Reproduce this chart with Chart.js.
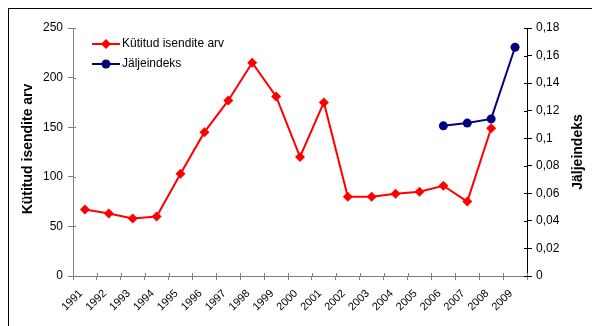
<!DOCTYPE html>
<html>
<head>
<meta charset="utf-8">
<script src="https://cdn.jsdelivr.net/npm/chart.js@4/dist/chart.umd.min.js"></script>
<style>
  html, body { margin: 0; padding: 0; background: #fff; }
  #wrap { position: relative; width: 592px; height: 326px; }
</style>
</head>
<body>
<div id="wrap"><canvas id="chart"></canvas></div>
<script>
// aastad
const years = ['1991', '1992', '1993', '1994', '1995', '1996', '1997', '1998', '1999', '2000',
               '2001', '2002', '2003', '2004', '2005', '2006', '2007', '2008', '2009'];
// kütitud isendite arv (vasak telg)
const kytitud = [67, 63, 58, 60, 103, 145, 177, 215, 181, 120,
                 175, 80, 80, 83, 85, 91, 75, 149, null];
// jäljeindeks (parem telg)
const jaljeindeks = [null, null, null, null, null, null, null, null, null, null,
                     null, null, null, null, null, 0.109, 0.111, 0.114, 0.166];
const leftTickLabels = ['0', '50', '100', '150', '200', '250'];
const rightTickLabels = ['0', '0,02', '0,04', '0,06', '0,08', '0,1', '0,12', '0,14', '0,16', '0,18'];

const FONT = '"Liberation Sans", Arial, sans-serif';

// raam, telgede pealkirjad, legend ja läbivad kriipsud
const decor = {
  id: 'decor',
  beforeDraw(chart) {
    const ctx = chart.ctx;
    ctx.save();
    ctx.fillStyle = '#fff';
    ctx.fillRect(0, 0, chart.width, chart.height);
    ctx.strokeStyle = '#000';
    ctx.lineWidth = 1;
    ctx.strokeRect(8.5, 8.5, 800, 500);
    ctx.restore();
  },
  afterDraw(chart) {
    const ctx = chart.ctx;
    const area = chart.chartArea;
    const { x, y, y1 } = chart.scales;
    ctx.save();

    // kriipsud telje sisse
    ctx.lineWidth = 1;
    ctx.strokeStyle = '#808080';
    y.ticks.forEach((t, i) => {
      const py = Math.round(y.getPixelForTick(i)) + 0.5;
      ctx.beginPath(); ctx.moveTo(area.left, py); ctx.lineTo(area.left + 3, py); ctx.stroke();
    });
    for (let i = 0; i <= years.length; i++) {
      const px = Math.round(x.getPixelForValue(i - 0.5)) + 0.5;
      ctx.beginPath(); ctx.moveTo(px, area.bottom); ctx.lineTo(px, area.bottom - 3); ctx.stroke();
    }
    ctx.strokeStyle = '#000';
    y1.ticks.forEach((t, i) => {
      const py = Math.round(y1.getPixelForTick(i)) + 0.5;
      ctx.beginPath(); ctx.moveTo(area.right, py); ctx.lineTo(area.right - 3, py); ctx.stroke();
    });

    // telgede pealkirjad
    const midY = (area.top + area.bottom) / 2;
    ctx.fillStyle = '#000';
    ctx.font = 'bold 14px ' + FONT;
    ctx.textAlign = 'center';
    ctx.textBaseline = 'middle';
    ctx.translate(28, midY - 3);
    ctx.rotate(-Math.PI / 2);
    ctx.fillText('Kütitud isendite arv', 0, 0);
    ctx.setTransform(1, 0, 0, 1, 0, 0);
    ctx.translate(578, midY);
    ctx.rotate(-Math.PI / 2);
    ctx.fillText('Jäljeindeks', 0, 0);
    ctx.setTransform(1, 0, 0, 1, 0, 0);

    // legend
    ctx.font = '12px ' + FONT;
    ctx.textAlign = 'left';
    chart.data.datasets.forEach((ds, i) => {
      const ly = 44 + i * 20;
      ctx.strokeStyle = ds.borderColor;
      ctx.lineWidth = 2;
      ctx.beginPath(); ctx.moveTo(92, ly); ctx.lineTo(120, ly); ctx.stroke();
      ctx.fillStyle = ds.pointBackgroundColor;
      Chart.helpers.drawPoint(ctx, { pointStyle: ds.pointStyle, radius: ds.pointRadius, borderWidth: 0 }, 106, ly);
      ctx.fillStyle = '#000';
      ctx.fillText(ds.label, 122, ly);
    });
    ctx.restore();
  }
};

new Chart(document.getElementById('chart'), {
  type: 'line',
  data: {
    labels: years,
    datasets: [{
      label: 'Kütitud isendite arv',
      data: kytitud,
      yAxisID: 'y',
      borderColor: '#ff0000',
      backgroundColor: '#ff0000',
      pointBackgroundColor: '#ff0000',
      pointBorderColor: '#ff0000',
      borderWidth: 2,
      pointStyle: 'rectRot',
      pointRadius: 5,
      pointBorderWidth: 0,
      tension: 0
    }, {
      label: 'Jäljeindeks',
      data: jaljeindeks,
      yAxisID: 'y1',
      borderColor: '#000080',
      backgroundColor: '#000080',
      pointBackgroundColor: '#000080',
      pointBorderColor: '#000080',
      borderWidth: 2,
      pointStyle: 'circle',
      pointRadius: 4.5,
      pointBorderWidth: 0,
      tension: 0
    }]
  },
  options: {
    responsive: true,
    maintainAspectRatio: false,
    animation: false,
    layout: { autoPadding: false, padding: { top: 28, left: 0, right: 0, bottom: 0 } },
    plugins: { legend: { display: false }, tooltip: { enabled: false } },
    scales: {
      x: {
        offset: true,
        grid: { offset: true, drawOnChartArea: false, color: '#808080', tickLength: 4 },
        border: { color: '#808080' },
        ticks: { color: '#000', font: { family: FONT, size: 11 }, minRotation: 45, maxRotation: 45,
                 padding: 7, labelOffset: -4, autoSkip: false },
        afterFit(s) { s.height = 50; }
      },
      y: {
        position: 'left',
        min: 0, max: 250,
        grid: { drawOnChartArea: false, color: '#808080', tickLength: 5 },
        border: { color: '#808080' },
        ticks: { stepSize: 50, color: '#000', font: { family: FONT, size: 12 }, padding: 5,
                 callback: (v, i) => leftTickLabels[i] },
        afterFit(s) { s.width = 73; }
      },
      y1: {
        position: 'right',
        min: 0, max: 0.18,
        grid: { drawOnChartArea: false, color: '#000', tickLength: 5 },
        border: { color: '#000' },
        ticks: { stepSize: 0.02, color: '#000', font: { family: FONT, size: 12 }, padding: 4,
                 callback: (v, i) => rightTickLabels[i] },
        afterFit(s) { s.width = 65; }
      }
    }
  },
  plugins: [decor]
});
</script>
</body>
</html>
